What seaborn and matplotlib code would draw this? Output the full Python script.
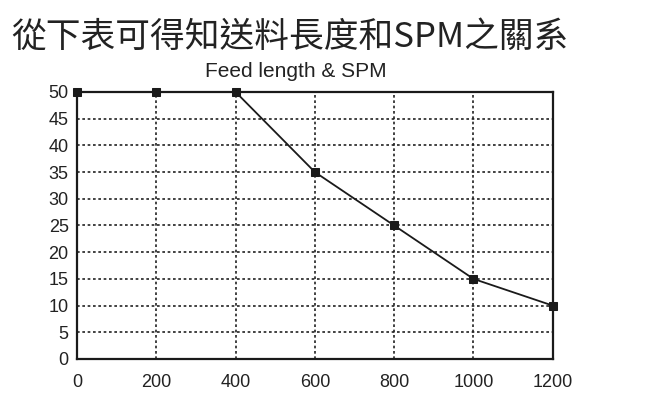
import matplotlib
matplotlib.use("Agg")
import matplotlib.pyplot as plt
import seaborn as sns
import pandas as pd

# data
feed_length = [0, 200, 400, 600, 800, 1000, 1200]
spm = [50, 50, 50, 35, 25, 15, 10]
x_ticks = [0, 200, 400, 600, 800, 1000, 1200]
y_ticks = [0, 5, 10, 15, 20, 25, 30, 35, 40, 45, 50]

title_text = "從下表可得知送料長度和SPM之關系"
subtitle_text = "Feed length & SPM"

df = pd.DataFrame({"feed": feed_length, "spm": spm})

sns.set_style("white")
plt.rcParams['font.family'] = ['Liberation Sans', 'DejaVu Sans']

fig = plt.figure(figsize=(6.58, 3.98), dpi=100)
ax = fig.add_axes([0.117, 0.098, 0.723, 0.671])

sns.lineplot(data=df, x="feed", y="spm", ax=ax, color="#1a1a1a", linewidth=1.3,
             marker="s", markersize=6, markeredgecolor="#1a1a1a", clip_on=False, zorder=5)

ax.set_xlim(0, 1200)
ax.set_ylim(0, 50)
ax.set_xticks(x_ticks)
ax.set_yticks(y_ticks)
ax.grid(True, color="#222222", linestyle=(0, (1.6, 1.6)), linewidth=1.2)
for s in ax.spines.values():
    s.set_color("#1a1a1a")
    s.set_linewidth(1.6)
ax.tick_params(axis="y", length=0, labelsize=13, colors="#222222", pad=6)
ax.tick_params(axis="x", length=0, labelsize=13, colors="#222222", pad=11)
ax.set_xlabel("")
ax.set_ylabel("")

fig.text(0.44, 0.905, title_text, ha="center", va="center", fontsize=25,
         color="#222222", family=['Noto Sans CJK TC', 'DejaVu Sans'])
fig.text(0.449, 0.82, subtitle_text, ha="center", va="center", fontsize=15,
         color="#222222")

fig.savefig("out.png", dpi=100, facecolor="white")
